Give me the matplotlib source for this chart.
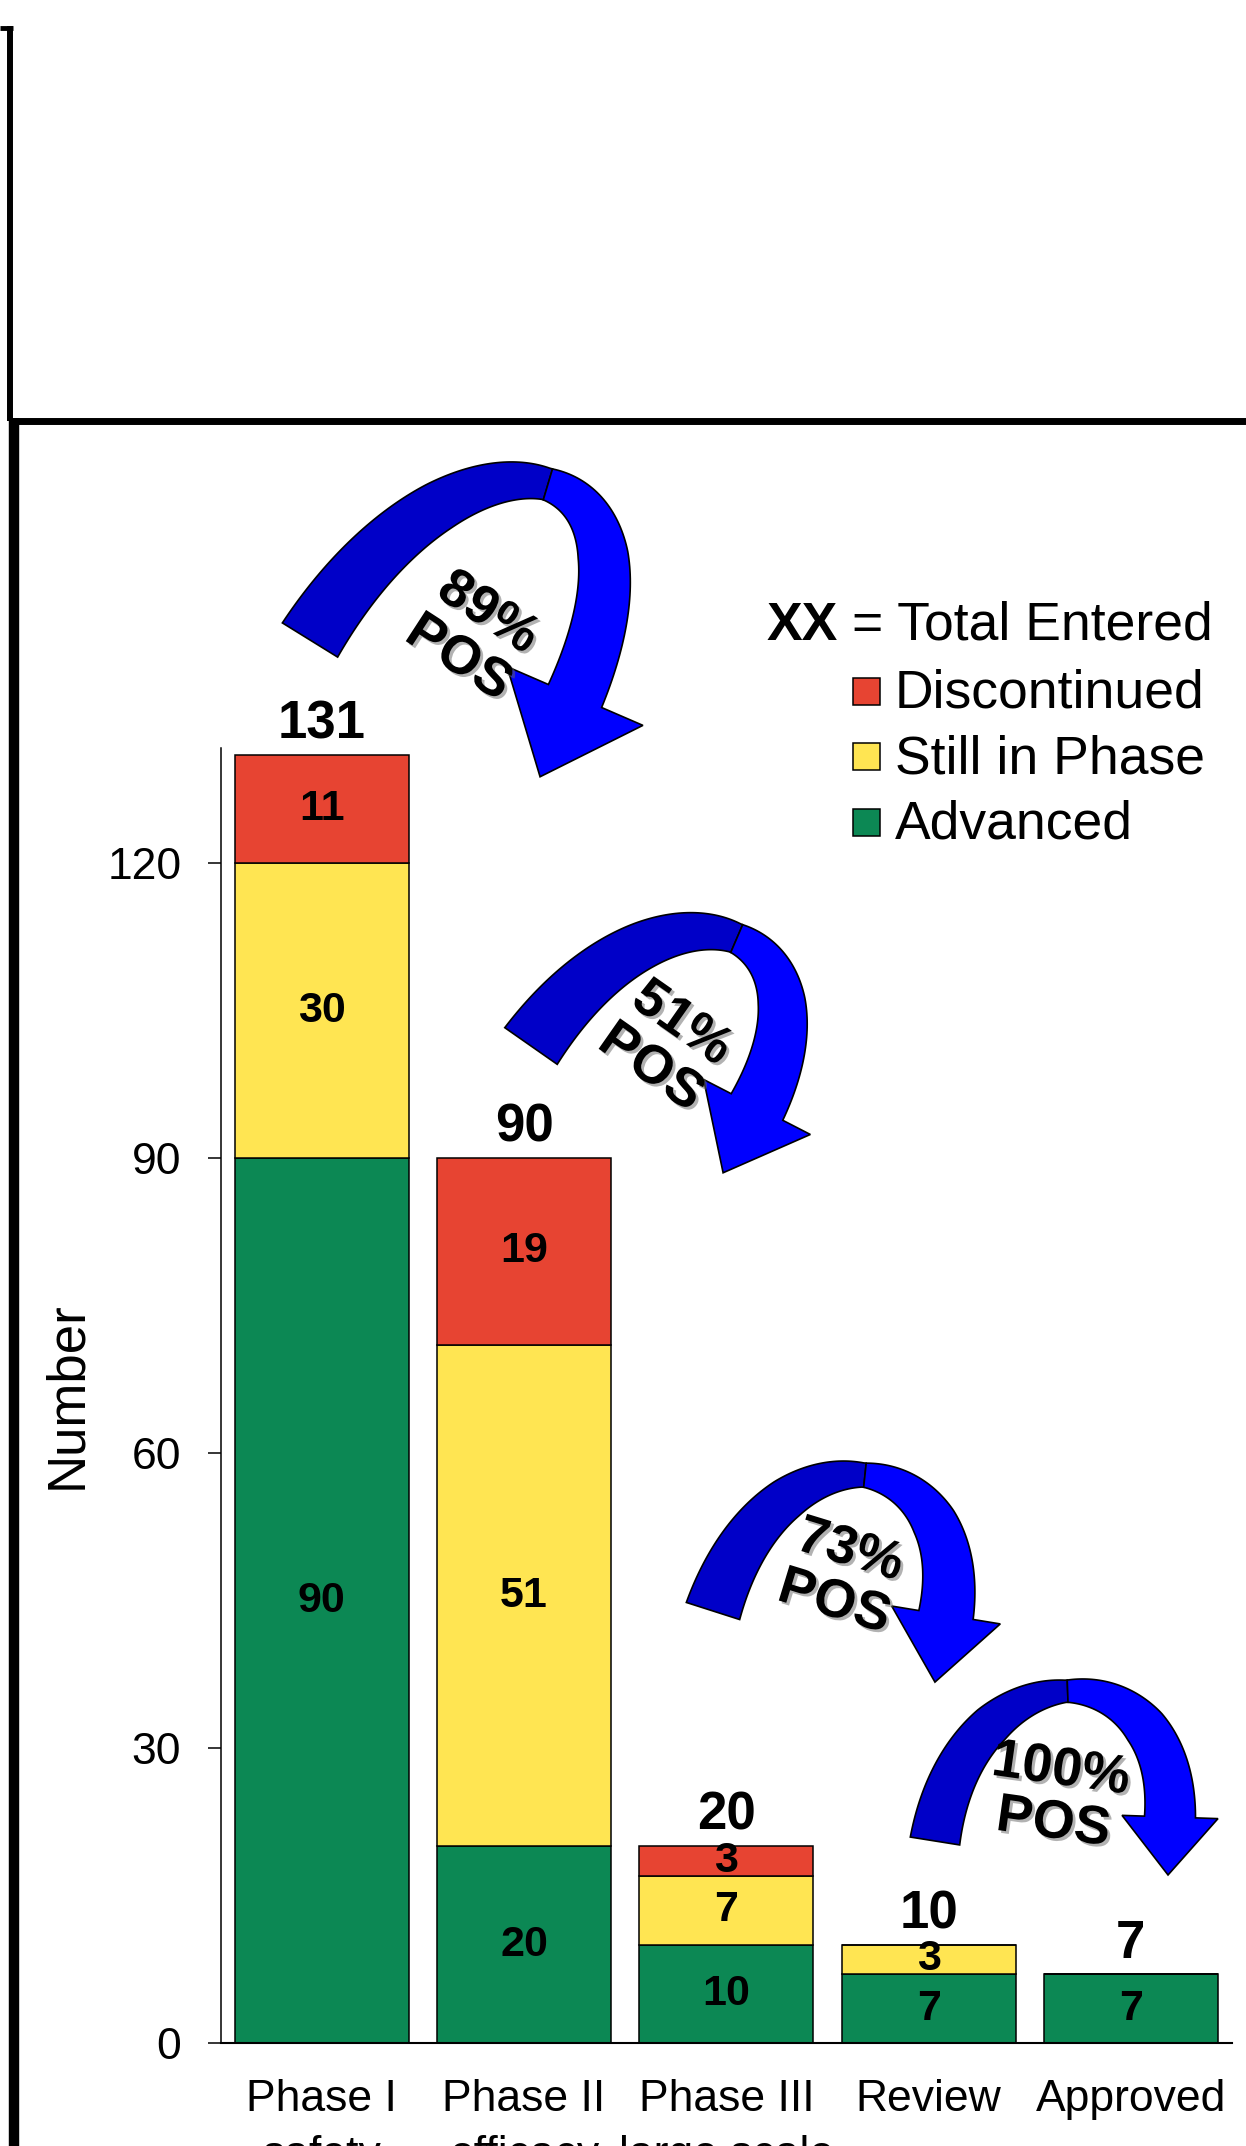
import numpy as np
import matplotlib
matplotlib.use('Agg')
import matplotlib.pyplot as plt
import matplotlib.patheffects as pe
from matplotlib.patches import Polygon, Rectangle
from matplotlib.lines import Line2D

plt.rcParams['font.family'] = ['Liberation Sans', 'DejaVu Sans']

W, H = 1246, 2146

phases = ['Phase I\nsafety', 'Phase II\nefficacy', 'Phase III\nlarge scale', 'Review', 'Approved']
advanced = [90, 20, 10, 7, 7]
still_in_phase = [30, 51, 7, 3, 0]
discontinued = [11, 19, 3, 0, 0]
pos_labels = ['89%\nPOS', '51%\nPOS', '73%\nPOS', '100%\nPOS']

series = [('Advanced', advanced, '#0C8854'),
          ('Still in Phase', still_in_phase, '#FFE552'),
          ('Discontinued', discontinued, '#E74432')]


def fx(x):
    return x / W


def fy(y):
    return 1 - y / H


def curved_arrow(fig, p0, d0, k0, p3, d3, k1, widths, t_twist, head_half, head_len):
    # ribbon-like curved arrow built in pixel coords (y down)
    p0, p3 = np.asarray(p0, float), np.asarray(p3, float)
    d0 = np.asarray(d0, float) / np.linalg.norm(d0)
    d3 = np.asarray(d3, float) / np.linalg.norm(d3)
    p1 = p0 + k0 * d0
    p2 = p3 - k1 * d3
    t = np.linspace(0, 1, 150)[:, None]
    c = (1 - t) ** 3 * p0 + 3 * (1 - t) ** 2 * t * p1 + 3 * (1 - t) * t ** 2 * p2 + t ** 3 * p3
    dc = 3 * (1 - t) ** 2 * (p1 - p0) + 6 * (1 - t) * t * (p2 - p1) + 3 * t ** 2 * (p3 - p2)
    dc /= np.linalg.norm(dc, axis=1)[:, None]
    n = np.column_stack([-dc[:, 1], dc[:, 0]])
    w = np.interp(t[:, 0], [0, 0.27, t_twist, 0.77, 1], widths)[:, None]
    a = c + n * w / 2
    b = c - n * w / 2
    i = int(np.searchsorted(t[:, 0], t_twist))
    n3 = np.array([-d3[1], d3[0]])
    wing_a = p3 + n3 * head_half
    wing_b = p3 - n3 * head_half
    tip = p3 + d3 * head_len
    dark = np.vstack([a[:i + 1], b[:i + 1][::-1]])
    bright = np.vstack([a[i:], wing_a, tip, wing_b, b[i:][::-1]])
    for pts, col in [(dark, '#0000C8'), (bright, '#0000FF')]:
        xy = np.column_stack([fx(pts[:, 0]), fy(pts[:, 1])])
        fig.add_artist(Polygon(xy, closed=True, facecolor=col, edgecolor='black',
                               linewidth=1.2, transform=fig.transFigure))


fig = plt.figure(figsize=(W / 100, H / 100), dpi=100)
ax = fig.add_axes([fx(220.7), 103 / H, (1232 - 220.7) / W, (2043 - 748) / H])

x = np.arange(len(phases))
bottom = np.zeros(len(phases))
for name, vals, col in series:
    bars = ax.bar(x, vals, 0.86, bottom=bottom, color=col, edgecolor='black', linewidth=1.1)
    ax.bar_label(bars, labels=[str(v) if v else '' for v in vals], label_type='center',
                 fontsize=31, fontweight='bold')
    bottom = bottom + np.array(vals)
ax.bar_label(bars, labels=[str(int(v)) for v in bottom], padding=4, fontsize=38, fontweight='bold')

ax.set_xlim(-0.5, 4.5)
ax.set_ylim(0, 131.7)
ax.set_yticks([0, 30, 60, 90, 120])
ax.set_xticks(x)
ax.set_xticklabels(phases, linespacing=1.45)
ax.tick_params(axis='y', labelsize=32, length=9.4, width=1.1, pad=19)
ax.tick_params(axis='x', labelsize=32, length=0, pad=26)
for s in ['top', 'right']:
    ax.spines[s].set_visible(False)
ax.spines['left'].set_linewidth(1.1)
ax.spines['bottom'].set_linewidth(1.5)
ax.set_ylabel('Number', fontsize=38, labelpad=11)

# legend drawn by hand
fig.text(fx(767), fy(640), 'XX', fontsize=38.5, fontweight='bold', va='baseline')
fig.text(fx(852), fy(640), '= Total Entered', fontsize=38.5, va='baseline')
for (name, vals, col), base, cy in zip(series[::-1], [708, 773, 838], [691.5, 756.5, 822.5]):
    fig.add_artist(Rectangle((fx(853), fy(cy + 13.5)), 27 / W, 27 / H, facecolor=col,
                             edgecolor='black', linewidth=1.1, transform=fig.transFigure))
    fig.text(fx(895), fy(base), name, fontsize=38.5, va='baseline')

# POS arrows
arrows = [
    dict(p0=(310, 640), d0=(0.526, -0.85), k0=280, p3=(575, 696), d3=(-0.397, 0.918), k1=280,
         widths=[65, 50, 32, 50, 58], t_twist=0.52, head_half=74, head_len=88),
    dict(p0=(531, 1046), d0=(0.573, -0.82), k0=235, p3=(757, 1107), d3=(-0.458, 0.889), k1=205,
         widths=[64, 47, 30, 47, 58], t_twist=0.52, head_half=60, head_len=74),
    dict(p0=(713, 1611), d0=(0.305, -0.952), k0=210, p3=(946, 1615), d3=(-0.162, 0.985), k1=170,
         widths=[56, 42, 24, 45, 55], t_twist=0.5, head_half=55, head_len=68),
    dict(p0=(935, 1841), d0=(0.158, -0.988), k0=200, p3=(1170, 1817), d3=(-0.034, 0.999), k1=170,
         widths=[50, 40, 22, 43, 51], t_twist=0.5, head_half=48, head_len=58),
]
text_spots = [((473, 636), -33), ((666, 1046), -35), ((842, 1577), -17), ((1057, 1797), -8)]
shadow = [pe.SimplePatchShadow(offset=(2, -2), shadow_rgbFace='0.4', alpha=0.5), pe.Normal()]
for arr, lab, ((tx, ty), rot) in zip(arrows, pos_labels, text_spots):
    curved_arrow(fig, **arr)
    fig.text(fx(tx), fy(ty), lab, fontsize=39, fontweight='bold', rotation=rot,
             rotation_mode='anchor', ha='center', va='center', multialignment='center',
             linespacing=1.1, path_effects=shadow)

# slide frame lines
frame = dict(color='black', transform=fig.transFigure, solid_capstyle='butt')
fig.add_artist(Line2D([fx(0), fx(13)], [fy(28), fy(28)], linewidth=3.5, **frame))
fig.add_artist(Line2D([fx(10), fx(10)], [fy(26), fy(421)], linewidth=4.3, **frame))
fig.add_artist(Line2D([fx(10), fx(W)], [fy(421), fy(421)], linewidth=5, **frame))
fig.add_artist(Line2D([fx(14), fx(14)], [fy(418), fy(H)], linewidth=7.5, **frame))

fig.savefig('out.png', dpi=100)
